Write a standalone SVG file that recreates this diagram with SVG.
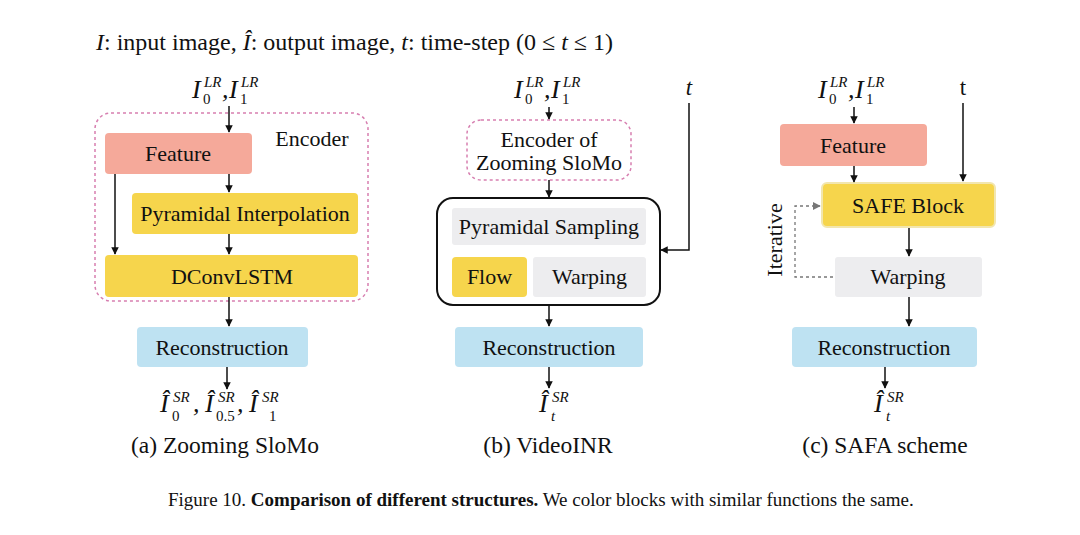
<svg xmlns="http://www.w3.org/2000/svg" width="1080" height="535" viewBox="0 0 1080 535">
<style>
text{font-family:"Liberation Serif","Times New Roman",serif;fill:#111}
.lbl{font-size:22px;text-anchor:middle}
.m{font-size:26px;font-style:italic}
.s{font-size:15px;font-style:italic}
.sn{font-size:15px}
.cap{font-size:23.5px;text-anchor:middle}
.feat{fill:#F5A99A}
.yel{fill:#F6D54C}
.blu{fill:#BEE2F2}
.gry{fill:#EDEDEF}
.enc{fill:none;stroke:#D77FB0;stroke-width:1.5;stroke-dasharray:3 3}
.ar{fill:none;stroke:#111;stroke-width:1.5;marker-end:url(#ah)}
.dash{fill:none;stroke:#777;stroke-width:1.3;stroke-dasharray:3 3;marker-end:url(#ahg)}
</style>
<defs>
<marker id="ah" viewBox="0 0 10 10" refX="9" refY="5" markerWidth="5" markerHeight="5" orient="auto" markerUnits="strokeWidth">
<path d="M0,0 L10,5 L0,10 z" fill="#111"/>
</marker>
<marker id="ahg" viewBox="0 0 10 10" refX="9" refY="5" markerWidth="6" markerHeight="6" orient="auto" markerUnits="strokeWidth">
<path d="M0,0 L10,5 L0,10 z" fill="#777"/>
</marker>
</defs>
<rect width="1080" height="535" fill="#fff"/>

<text x="96" y="50" font-size="24"><tspan font-style="italic">I</tspan>: input image, <tspan font-style="italic">Î</tspan>: output image, <tspan font-style="italic">t</tspan>: time-step (0 ≤ <tspan font-style="italic">t</tspan> ≤ 1)</text>

<!-- Panel a -->
<g id="a-input">
<text class="m" x="192" y="98">I</text><text class="s" x="204" y="87">LR</text><text class="sn" x="203" y="104">0</text>
<text class="m" x="222" y="98">,</text>
<text class="m" x="229" y="98">I</text><text class="s" x="241" y="87">LR</text><text class="sn" x="240" y="104">1</text>
</g>
<g id="a-encoder"><rect class="enc" x="95" y="113" width="273" height="188" rx="16"/><text class="lbl" x="312" y="146">Encoder</text></g>
<g id="a-feature"><rect class="feat" x="105" y="133" width="147" height="41" rx="4"/><text class="lbl" x="178" y="161">Feature</text></g>
<g id="a-pyr"><rect class="yel" x="132" y="193" width="226" height="41" rx="4"/><text class="lbl" x="245" y="221">Pyramidal Interpolation</text></g>
<g id="a-dconv"><rect class="yel" x="105" y="255" width="253" height="42" rx="4"/><text class="lbl" x="232" y="283.5">DConvLSTM</text></g>
<g id="a-recon"><rect class="blu" x="137" y="327" width="171" height="40" rx="4"/><text class="lbl" x="222" y="354.5">Reconstruction</text></g>
<g id="a-output">
<text class="m" x="160" y="412">Î</text><text class="s" x="173" y="402">SR</text><text class="sn" x="172" y="421">0</text>
<text class="m" x="193" y="412">,</text>
<text class="m" x="205" y="412">Î</text><text class="s" x="218" y="402">SR</text><text class="sn" x="216" y="421">0.5</text>
<text class="m" x="237" y="412">,</text>
<text class="m" x="249" y="412">Î</text><text class="s" x="262" y="402">SR</text><text class="sn" x="269" y="421">1</text>
</g>
<text class="cap" x="225" y="453">(a) Zooming SloMo</text>

<!-- Panel b -->
<g id="b-input">
<text class="m" x="514" y="98">I</text><text class="s" x="526" y="87">LR</text><text class="sn" x="525" y="104">0</text>
<text class="m" x="544" y="98">,</text>
<text class="m" x="551" y="98">I</text><text class="s" x="563" y="87">LR</text><text class="sn" x="562" y="104">1</text>
</g>
<g id="b-t"><text x="689" y="95" font-size="23" font-style="italic" text-anchor="middle">t</text></g>
<g id="b-encoder"><rect class="enc" x="467" y="120" width="164" height="60" rx="14"/><text class="lbl" x="549" y="147">Encoder of</text><text class="lbl" x="549" y="170">Zooming SloMo</text></g>
<g id="b-block"><rect x="437" y="198" width="223" height="107" rx="16" fill="#fff" stroke="#111" stroke-width="2"/></g>
<g id="b-pyr"><rect class="gry" x="452" y="208" width="194" height="37" rx="3"/><text class="lbl" x="549" y="234">Pyramidal Sampling</text></g>
<g id="b-flow"><rect class="yel" x="452" y="257" width="75" height="40" rx="4"/><text class="lbl" x="489.5" y="284">Flow</text></g>
<g id="b-warp"><rect class="gry" x="533" y="257" width="113" height="40" rx="3"/><text class="lbl" x="589.5" y="284">Warping</text></g>
<g id="b-recon"><rect class="blu" x="455" y="327" width="188" height="40" rx="4"/><text class="lbl" x="549" y="354.5">Reconstruction</text></g>
<g id="b-output">
<text class="m" x="539" y="412">Î</text><text class="s" x="552" y="402">SR</text><text class="s" x="551" y="421">t</text>
</g>
<text class="cap" x="548" y="453">(b) VideoINR</text>

<!-- Panel c -->
<g id="c-input">
<text class="m" x="818" y="98">I</text><text class="s" x="830" y="87">LR</text><text class="sn" x="829" y="104">0</text>
<text class="m" x="848" y="98">,</text>
<text class="m" x="855" y="98">I</text><text class="s" x="867" y="87">LR</text><text class="sn" x="866" y="104">1</text>
</g>
<g id="c-t"><text x="963" y="95" font-size="23" text-anchor="middle">t</text></g>
<g id="c-feature"><rect class="feat" x="780" y="124" width="147" height="42" rx="4"/><text class="lbl" x="853" y="152.5">Feature</text></g>
<g id="c-safe"><rect class="yel" x="822" y="183" width="173" height="44" rx="5" stroke="#F2E6AE" stroke-width="2"/><text class="lbl" x="908" y="212.5">SAFE Block</text></g>
<g id="c-warp"><rect class="gry" x="835" y="257" width="147" height="40" rx="3"/><text class="lbl" x="908" y="284">Warping</text></g>
<g id="c-iter"><text class="lbl" transform="translate(782,240) rotate(-90)" x="0" y="0">Iterative</text></g>
<g id="c-recon"><rect class="blu" x="792" y="327" width="185" height="40" rx="4"/><text class="lbl" x="884" y="354.5">Reconstruction</text></g>
<g id="c-output">
<text class="m" x="874" y="412">Î</text><text class="s" x="887" y="402">SR</text><text class="s" x="886" y="421">t</text>
</g>
<text class="cap" x="885" y="453">(c) SAFA scheme</text>

<g id="connectors">
<path class="ar" d="M229,106 V132"/>
<path class="ar" d="M229,174 V192"/>
<path class="ar" d="M229,234 V254"/>
<path class="ar" d="M115,174 V254"/>
<path class="ar" d="M229,297 V326"/>
<path class="ar" d="M227,367 V389"/>
<path class="ar" d="M549,107 V119"/>
<path class="ar" d="M549,180 V197"/>
<path class="ar" d="M689,103 V250 H661"/>
<path class="ar" d="M549,305 V326"/>
<path class="ar" d="M549,367 V388"/>
<path class="ar" d="M854,107 V123"/>
<path class="ar" d="M854,166 V182"/>
<path class="ar" d="M963,103 V181"/>
<path class="ar" d="M909,228 V256"/>
<path class="ar" d="M909,297 V326"/>
<path class="ar" d="M885,367 V388"/>
<path class="dash" d="M833,277 H795 V206 H820"/>
</g>

<text x="168" y="506" font-size="19">Figure 10. <tspan font-weight="bold">Comparison of different structures.</tspan> We color blocks with similar functions the same.</text>
</svg>
